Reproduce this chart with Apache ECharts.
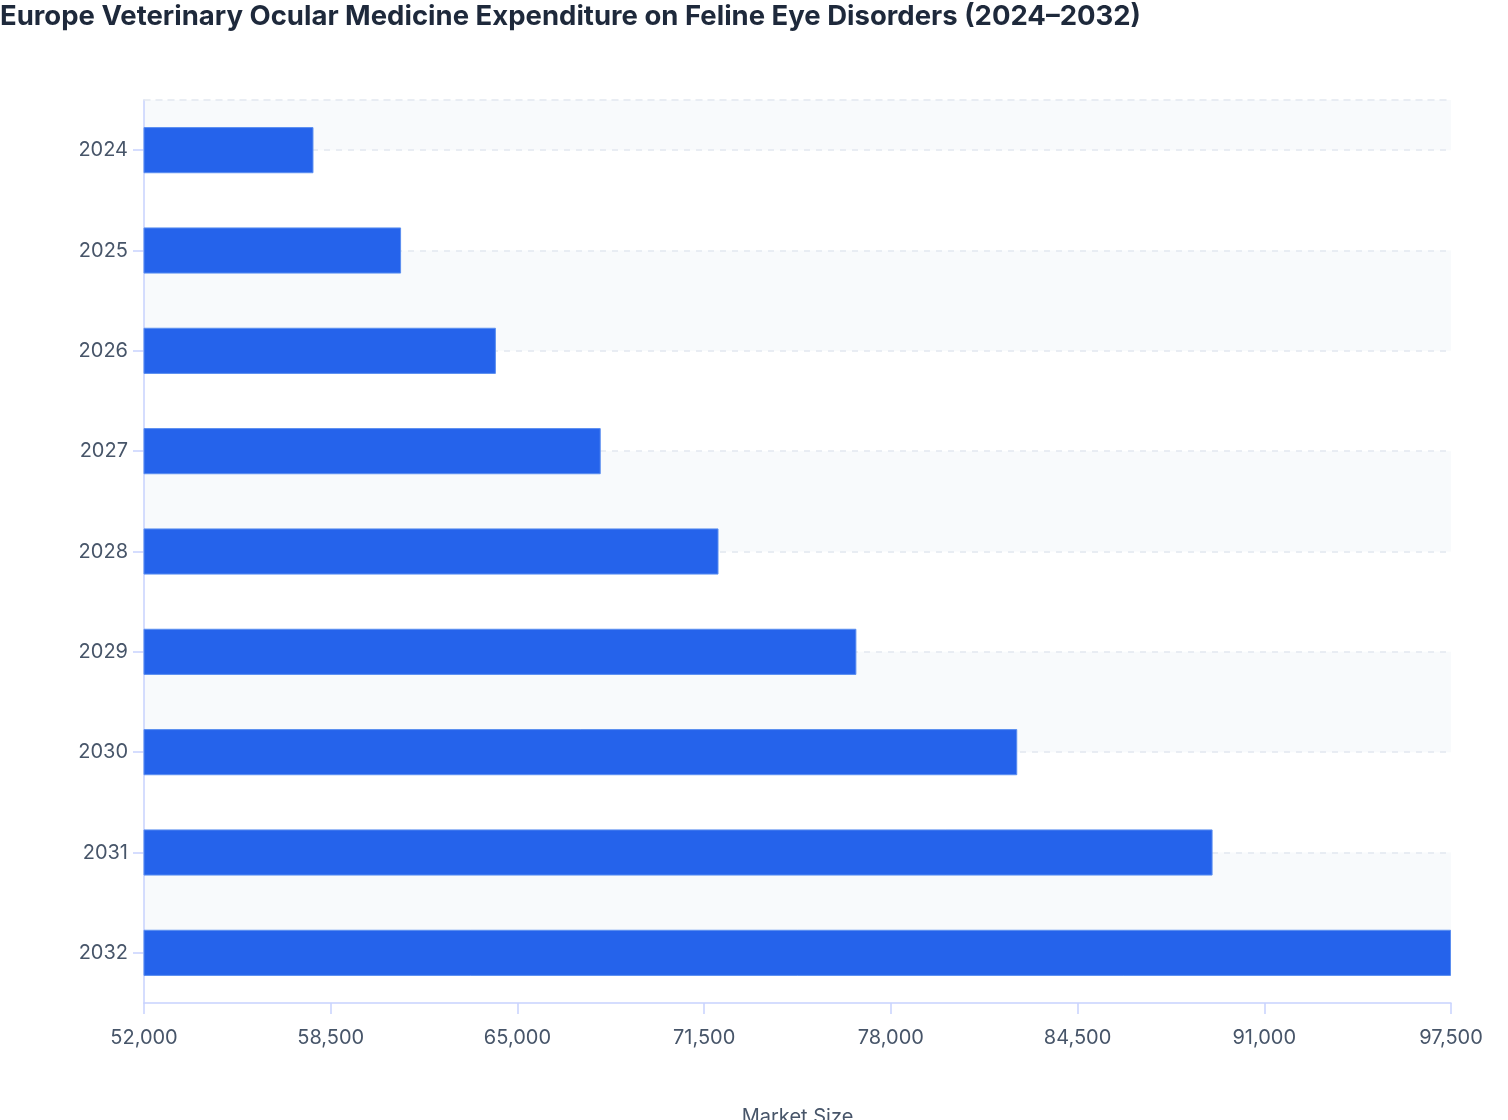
<!DOCTYPE html>
<html>
<head>
<meta charset="utf-8">
<script src="https://cdn.jsdelivr.net/npm/echarts@6/dist/echarts.min.js"></script>
<style>
html,body{margin:0;padding:0;background:#fff;}
#chart{width:1508px;height:1120px;}
</style>
</head>
<body>
<div id="chart"></div>
<script>
const titleText = 'Europe Veterinary Ocular Medicine Expenditure on Feline Eye Disorders (2024–2032)';
const years = ['2024','2025','2026','2027','2028','2029','2030','2031','2032'];
const marketSize = [57900, 60950, 64250, 67900, 72000, 76800, 82400, 89200, 97500];
const xAxisName = 'Market Size';
const xMin = 52000, xMax = 97500, xStep = 6500;

const chart = echarts.init(document.getElementById('chart'), null, {renderer: 'canvas'});
const axisBlue = '#c7d2fe';
const labelColor = '#475569';
const bandGray = '#f8fafc';
const bandClear = 'rgba(255,255,255,0)';
const gridDash = {color: '#e2e8f0', width: 1.5, type: [6, 6]};
chart.setOption({
  backgroundColor: '#ffffff',
  animation: false,
  textStyle: {fontFamily: 'Inter'},
  title: {
    text: titleText,
    left: 0, top: 3, padding: 0,
    textStyle: {fontFamily: 'Inter', fontSize: 27.5, fontWeight: 700, color: '#1e293b'}
  },
  grid: {left: 144, right: 57, top: 100, bottom: 117, containLabel: false, outerBoundsMode: 'none'},
  xAxis: [{
    type: 'value',
    position: 'top',
    min: xMin, max: xMax, interval: xStep,
    axisLine: {show: true, onZero: false, lineStyle: gridDash},
    axisTick: {show: false},
    axisLabel: {show: false},
    splitLine: {show: false}
  }, {
    type: 'value',
    position: 'bottom',
    min: xMin, max: xMax, interval: xStep,
    name: xAxisName,
    nameLocation: 'middle',
    nameGap: 104,
    nameTextStyle: {fontFamily: 'Inter', fontSize: 20, color: labelColor},
    axisLine: {show: true, onZero: false, lineStyle: {color: axisBlue, width: 1.5}},
    axisTick: {show: true, length: 11, lineStyle: {color: axisBlue, width: 1.5}},
    axisLabel: {margin: 25, fontFamily: 'Inter', fontSize: 20, color: labelColor,
      formatter: v => v.toLocaleString('en-US')},
    splitLine: {show: false}
  }],
  yAxis: [{
    type: 'value',
    position: 'left',
    inverse: true,
    min: -0.5,
    max: years.length - 0.5,
    interval: 0.5,
    axisLine: {show: false},
    axisTick: {show: false},
    axisLabel: {show: false},
    splitLine: {show: false},
    splitArea: {show: true, areaStyle: {color: [bandGray, bandClear, bandClear, bandGray]}}
  }, {
    type: 'category',
    position: 'left',
    data: years,
    inverse: true,
    axisLine: {show: true, onZero: false, lineStyle: {color: axisBlue, width: 1.5}},
    axisTick: {show: true, alignWithLabel: true, length: 11, lineStyle: {color: axisBlue, width: 1.5}},
    axisLabel: {margin: 16, fontFamily: 'Inter', fontSize: 20, color: labelColor},
    splitLine: {show: true, alignWithLabel: true, lineStyle: gridDash},
    splitArea: {show: false}
  }],
  series: [{
    type: 'bar',
    data: marketSize,
    xAxisIndex: 1,
    yAxisIndex: 1,
    barWidth: '46%',
    itemStyle: {color: '#2563eb', borderColor: '#5b8ef0', borderWidth: 1}
  }]
});
</script>
</body>
</html>
